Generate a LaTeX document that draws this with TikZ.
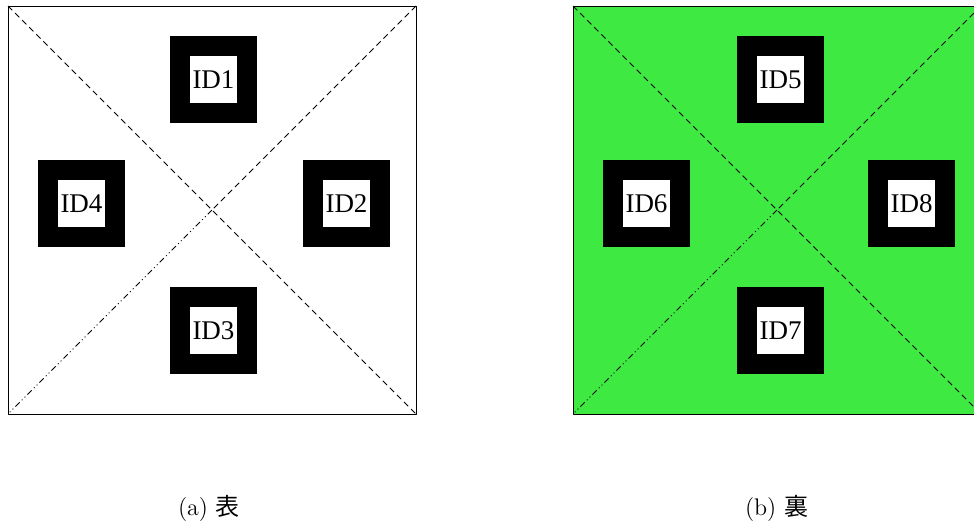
\documentclass[tikz,border=0pt]{standalone}
\usepackage{fontspec}
\newfontfamily\idfont{Liberation Serif}
\newfontfamily\cjk{Noto Sans CJK JP}
\definecolor{sidegreen}{RGB}{62,234,66}
\begin{document}
\begin{tikzpicture}[x=1pt,y=1pt,line join=round,
	marker/.style={fill=black,draw=none,minimum size=43.5pt,inner sep=0pt,outer sep=0pt},
	idbox/.style={fill=white,draw=none,minimum size=23.5pt,inner sep=0pt,font=\idfont\fontsize{13.5}{16}\selectfont},
	diag/.style={line width=0.4pt,dash pattern=on 3pt off 2pt},
	diagdot/.style={line width=0.4pt,dash pattern=on 3pt off 1.5pt on 0.5pt off 1.5pt on 0.5pt off 1.5pt},
	caption/.style={font=\fontsize{12}{14}\selectfont}]
	\useasboundingbox (0,0) rectangle (487,-263.5);
	% (a) front side
	\coordinate (aTL) at (4,-3);
	\coordinate (aTR) at (208,-3);
	\coordinate (aBL) at (4,-207);
	\coordinate (aBR) at (208,-207);
	\coordinate (aC) at (106,-105);
	\draw[line width=0.5pt] (aTL) rectangle (aBR);
	\draw[diag] (aTL) -- (aBR);
	\draw[diag] (aTR) -- (aC);
	\draw[diagdot] (aC) -- (aBL);
	\foreach \n/\x/\y in {1/106.75/-39.75, 2/173.25/-101.75, 3/106.75/-165.25, 4/40.75/-101.75}{
		\node[marker] (m\n) at (\x,\y) {};
		\node[idbox] (id\n) at (m\n) {ID\n};
	}
	\node[caption] (capa) at (104.5,-254) {(a) {\cjk 表}};
	% (b) back side
	\coordinate (bTL) at (286.5,-3);
	\coordinate (bTR) at (490.5,-3);
	\coordinate (bBL) at (286.5,-207);
	\coordinate (bBR) at (490.5,-207);
	\coordinate (bC) at (388.5,-105);
	\draw[line width=0.5pt,fill=sidegreen] (bTL) rectangle (bBR);
	\draw[diag] (bTL) -- (bBR);
	\draw[diag] (bTR) -- (bC);
	\draw[diagdot] (bC) -- (bBL);
	\foreach \n/\x/\y in {5/390.25/-39.75, 6/323.25/-101.75, 7/390.25/-165.25, 8/455.75/-101.75}{
		\node[marker] (m\n) at (\x,\y) {};
		\node[idbox] (id\n) at (m\n) {ID\n};
	}
	\node[caption] (capb) at (388.3,-254) {(b) {\cjk 裏}};
\end{tikzpicture}
\end{document}
